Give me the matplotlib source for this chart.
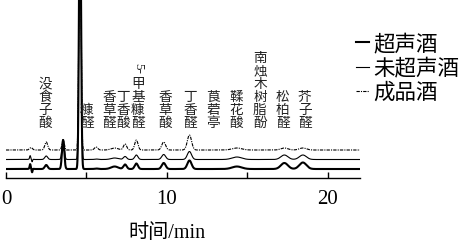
import numpy as np
import matplotlib
matplotlib.use('Agg')
import matplotlib.pyplot as plt
import matplotlib.transforms as mtransforms

plt.rcParams['font.family'] = ['Liberation Serif', 'Noto Sans CJK SC', 'DejaVu Sans']

# peak table: retention time (min), width (min)
rt = [1.50, 1.55, 1.62, 2.5, 3.55, 4.6, 5.6, 6.75, 7.4, 8.1, 9.8, 11.4, 14.35, 17.3, 18.45]
width = [0.03, 0.09, 0.03, 0.09, 0.07, 0.06, 0.1, 0.22, 0.1, 0.1, 0.12, 0.13, 0.3, 0.22, 0.22]
# peak heights (arbitrary units) per sample
h_final = [0, 2.5, 0, 8, 10, 300, 3, 2, 6, 10, 8, 15, 2, 2, 2]        # 成品酒
h_raw = [3, 1, -3, 3.5, 20, 300, 0.5, 1.5, 3, 4.5, 5, 8, 2.5, 4.5, 4.5]  # 未超声酒
h_us = [4, 1, -4, 4, 29, 300, 0.5, 2.5, 4.5, 5.5, 6, 8.5, 2.5, 6, 6.5]   # 超声酒

series_names = ['超声酒', '未超声酒', '成品酒']

peak_labels = ['没食子酸', '糠醛', '香草醛', '丁香酸', '5-甲基糠醛', '香草酸', '丁香醛',
               '莨菪亭', '鞣花酸', '南烛木树脂酚', '松柏醛', '芥子醛']
label_rt = [2.42, 5.03, 6.4, 7.27, 8.2, 9.88, 11.43, 12.86, 14.29, 15.78, 17.2, 18.57]


def trace(t, heights):
    y = np.zeros_like(t)
    for r, w, h in zip(rt, width, heights):
        y += h * np.exp(-0.5 * ((t - r) / w) ** 2)
    return y


t = np.linspace(0, 22, 5000)

fig = plt.figure(figsize=(4.68, 2.48), dpi=100)
ax = fig.add_axes([6 / 468, 70 / 248, 354 / 468, 178 / 248])

l1, = ax.plot(t, 9 + trace(t, h_us), color='black', lw=1.5)
l2, = ax.plot(t, 18.5 + trace(t, h_raw), color='black', lw=0.8)
l3, = ax.plot(t, 28 + trace(t, h_final), color='black', lw=0.8, dashes=(3, 1, 1, 1))

ax.set_xlim(0, 22)
ax.set_ylim(0, 178)
for s in ['left', 'right', 'top']:
    ax.spines[s].set_visible(False)
ax.spines['bottom'].set_linewidth(1.0)
ax.set_yticks([])
ax.set_xticks([0, 10, 20])
ax.set_xticks([5, 15], minor=True)
ax.tick_params(axis='x', which='both', direction='in', length=4, width=1, labelsize=15, pad=9)
ax.set_xlabel('时间/min', fontsize=14.5)
ax.xaxis.set_label_coords((167 - 6) / 354, -(233 - 178) / 178)
ax.xaxis.label.set_va('center')

# vertical peak names
trans = mtransforms.blended_transform_factory(ax.transData, ax.transAxes)
pitch = 9.4
for name, x in zip(peak_labels, label_rt):
    chars = list(name)
    prefix = ''
    if name.startswith('5-'):
        prefix = '5-'
        chars = chars[2:]
    for i, ch in enumerate(reversed(chars)):
        ax.annotate(ch, xy=(x, 0.2697), xycoords=trans, xytext=(0, i * pitch),
                    textcoords='offset points', ha='center', va='bottom',
                    fontsize=9.8, color='#222222', family=['Noto Sans CJK SC'])
    if prefix:
        ax.annotate(prefix, xy=(x, 0.2697), xycoords=trans,
                    xytext=(0, len(chars) * pitch + 2.5), textcoords='offset points',
                    ha='center', va='bottom', rotation=-90, fontsize=9.5,
                    color='#222222', family=['Liberation Serif'])

fig.legend([l1, l2, l3], series_names, loc='upper left',
           bbox_to_anchor=(356 / 468, 1 - 33 / 248), frameon=False,
           handlelength=0.6, handletextpad=0.2, labelspacing=0.1,
           borderpad=0, borderaxespad=0,
           prop={'family': ['Noto Sans CJK SC'], 'size': 15.5})

fig.savefig('out.png', dpi=100)
